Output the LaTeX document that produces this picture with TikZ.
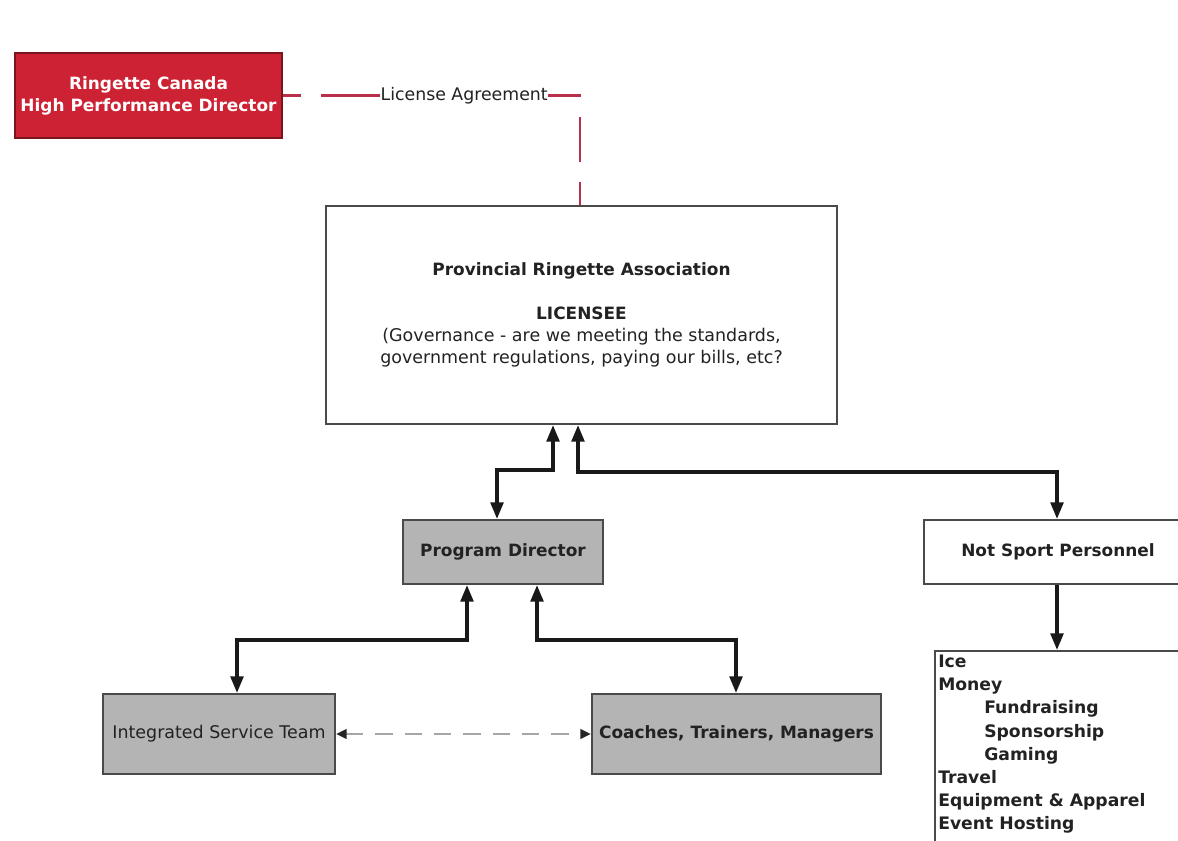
\documentclass[tikz,border=0pt]{standalone}
\usepackage{fontspec}
\setmainfont{DejaVu Sans}
\usetikzlibrary{arrows.meta}
\definecolor{rcred}{HTML}{CC2233}
\definecolor{dashred}{HTML}{B8304A}
\definecolor{boxgray}{HTML}{B4B4B4}
\definecolor{edgegray}{HTML}{4A4A4A}
\definecolor{txt}{HTML}{222222}
\begin{document}
\begin{tikzpicture}[x=0.75pt,y=-0.75pt,
  every node/.style={font=\fontsize{13.1}{16.5}\selectfont, text=txt},
  bf/.style={font=\fontsize{12.7}{16.5}\selectfont\bfseries},
  box/.style={draw=edgegray, line width=1.5pt, inner sep=0pt, align=center},
  graybox/.style={box, fill=boxgray},
  whitebox/.style={box, fill=white},
  redbox/.style={box, draw=rcred!60!black, fill=rcred, text=white, bf},
  conn/.style={line width=2.6pt, black!90, {Triangle[length=12.5pt,width=9.5pt]}-{Triangle[length=12.5pt,width=9.5pt]}},
  oneway/.style={line width=2.6pt, black!90, -{Triangle[length=12.5pt,width=9.5pt]}},
  dashconn/.style={line width=2pt, gray!70, dash pattern=on 13pt off 9pt,
     {Triangle[length=8pt,width=7pt,color=black!85]}-{Triangle[length=8pt,width=7pt,color=black!85]}},
  license/.style={line width=2pt, dashred, dash pattern=on 13.5pt off 15pt on 195pt off 15pt on 33.75pt off 15pt on 40pt},
  item/.style={font=\fontsize{12.9}{17.3}\selectfont\bfseries, align=left, inner sep=0pt, anchor=north west}
]
\useasboundingbox (0,0) rectangle (1178,840);
\clip (0,0) rectangle (1178,840);
\fill[white] (0,0) rectangle (1178,840);

% nodes
\node[redbox, minimum width=267*0.75pt, minimum height=85*0.75pt] (rc) at (148.5,95.5)
  {Ringette Canada\\High Performance Director};
\node[whitebox, minimum width=511*0.75pt, minimum height=218*0.75pt] (pra) at (581.5,315)
  {\textbf{\fontsize{12.7}{16.5}\selectfont Provincial Ringette Association}\\[16.5pt]\textbf{\fontsize{12.7}{16.5}\selectfont LICENSEE}\\(Governance - are we meeting the standards,\\government regulations, paying our bills, etc?};
\node[graybox, bf, minimum width=200*0.75pt, minimum height=64*0.75pt] (pd) at (503,552) {Program Director};
\node[whitebox, bf, minimum width=268*0.75pt, minimum height=64*0.75pt] (nsp) at (1058,552) {Not Sport Personnel};
\node[whitebox, minimum width=270*0.75pt, minimum height=220*0.75pt, anchor=north west] (list) at (934,650) {};
\node[item] (items) at (938,655)
  {Ice\\Money\\\hspace*{34.5pt}Fundraising\\\hspace*{34.5pt}Sponsorship\\\hspace*{34.5pt}Gaming\\Travel\\Equipment \& Apparel\\Event Hosting};
\node[graybox, minimum width=232*0.75pt, minimum height=80*0.75pt] (ist) at (219,734) {Integrated Service Team};
\node[graybox, bf, minimum width=289*0.75pt, minimum height=80*0.75pt] (ctm) at (736.5,734) {Coaches, Trainers, Managers};

% bend points
\coordinate (b1) at (497,470);
\coordinate (b2) at (553,470);
\coordinate (b3) at (578,472);
\coordinate (b4) at (1057,472);
\coordinate (b5) at (237,640);
\coordinate (b6) at (467,640);
\coordinate (b7) at (537,640);
\coordinate (b8) at (736,640);
\coordinate (lc) at (580,95.5);

% connectors
\draw[license] (rc.east) -- node[pos=0.61, fill=white, inner sep=0.5pt, font=\fontsize{13}{15}\selectfont] (lab) {License Agreement} (lc) -- (pra.north -| lc);
\draw[conn] (pd.north -| b1) -- (b1) -- (b2) -- (pra.south -| b2);
\draw[conn] (pra.south -| b3) -- (b3) -- (b4) -- (nsp.north -| b4);
\draw[oneway] (nsp.south -| b4) -- (list.north -| b4);
\draw[conn] (ist.north -| b5) -- (b5) -- (b6) -- (pd.south -| b6);
\draw[conn] (pd.south -| b7) -- (b7) -- (b8) -- (ctm.north -| b8);
\draw[dashconn] (ist.east) -- (ctm.west);
\end{tikzpicture}
\end{document}
